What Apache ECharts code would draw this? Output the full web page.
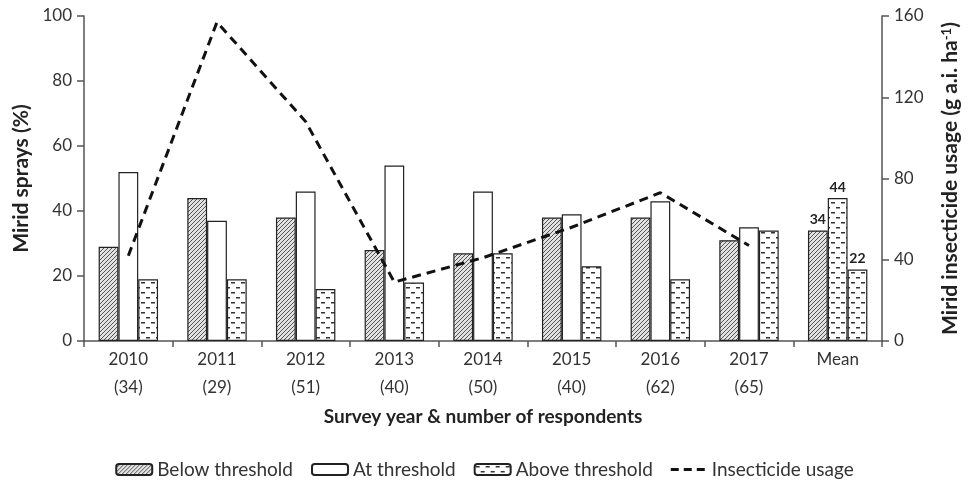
<!DOCTYPE html>
<html>
<head>
<meta charset="utf-8">
<script src="https://cdn.jsdelivr.net/npm/echarts@6/dist/echarts.min.js"></script>
<style>
  html, body { margin: 0; padding: 0; background: #fff; }
  #chart { width: 969px; height: 486px; }
</style>
</head>
<body>
<div id="chart"></div>
<script>
  const years = ['2010\n(34)', '2011\n(29)', '2012\n(51)', '2013\n(40)', '2014\n(50)', '2015\n(40)', '2016\n(62)', '2017\n(65)', 'Mean'];
  const below = [29, 44, 38, 28, 27, 38, 38, 31, 34];
  const atThr = [52, 37, 46, 54, 46, 39, 43, 35, 44];
  const above = [19, 19, 16, 18, 27, 23, 19, 34, 22];
  const usage = [42, 157, 108, 29, 41, 56, 73, 47, null];
  const leftTicks = [0, 20, 40, 60, 80, 100];
  const rightTicks = [0, 40, 80, 120, 160];

  const FONT = 'Lato, "Open Sans", sans-serif';
  const TXT = '#333';

  function hatch() {
    const c = document.createElement('canvas');
    c.width = 4; c.height = 4;
    const g = c.getContext('2d');
    g.fillStyle = '#e2e2e2';
    g.fillRect(0, 0, 4, 4);
    g.strokeStyle = '#444';
    g.lineWidth = 0.9;
    g.beginPath();
    g.moveTo(-1, 5); g.lineTo(5, -1);
    g.moveTo(-1, 1); g.lineTo(1, -1);
    g.moveTo(3, 5); g.lineTo(5, 3);
    g.stroke();
    return c;
  }

  function dashes() {
    const c = document.createElement('canvas');
    c.width = 10; c.height = 10;
    const g = c.getContext('2d');
    g.fillStyle = '#fff';
    g.fillRect(0, 0, 10, 10);
    g.fillStyle = '#333';
    g.fillRect(1, 2, 4, 1.5);
    g.fillRect(6, 7, 4, 1.5);
    return c;
  }

  const hatchFill = { image: hatch(), repeat: 'repeat' };
  const dashFill = { image: dashes(), repeat: 'repeat' };
  const border = { borderColor: '#222', borderWidth: 1.2 };

  const meanLabel = {
    show: true, position: 'top', distance: 4,
    fontFamily: FONT, fontWeight: 'bold', fontSize: 14, color: '#222'
  };

  function withMean(arr, extra) {
    return arr.map((v, i) => i === arr.length - 1
      ? Object.assign({ value: v, label: meanLabel }, extra || {})
      : v);
  }

  const nameStyle = { fontFamily: FONT, fontSize: 21, fontWeight: 'bold', color: '#222' };

  const chart = echarts.init(document.getElementById('chart'));
  chart.setOption({
    animation: false,
    textStyle: { fontFamily: FONT },
    grid: { left: 84, right: 84, top: 16, bottom: 145 },
    legend: {
      bottom: 2,
      left: 'center',
      itemGap: 18,
      itemWidth: 36,
      itemHeight: 11,
      textStyle: { fontFamily: FONT, fontSize: 19, color: TXT },
      data: [
        'Below threshold', 'At threshold', 'Above threshold',
        {
          name: 'Insecticide usage',
          icon: 'path://M0,4h8v3h-8z M13,4h8v3h-8z M26,4h8v3h-8z M0,0h0.01v11h-0.01z M35.99,0h0.01v11h-0.01z'
        }
      ]
    },
    xAxis: {
      type: 'category',
      data: years,
      name: 'Survey year & number of respondents',
      nameLocation: 'middle',
      nameGap: 56,
      nameTextStyle: Object.assign({}, nameStyle, { fontSize: 19 }),
      axisLine: { lineStyle: { color: '#555', width: 1.5 } },
      axisTick: { show: true, length: 6, lineStyle: { color: '#555', width: 1.5 } },
      axisLabel: { fontFamily: FONT, fontSize: 17, color: TXT, lineHeight: 28, margin: 5 }
    },
    yAxis: [
      {
        type: 'value', min: 0, max: 100, interval: 20,
        name: 'Mirid sprays (%)',
        nameLocation: 'middle', nameGap: 50, nameRotate: 90,
        nameTextStyle: nameStyle,
        axisLine: { show: true, lineStyle: { color: '#555', width: 1.5 } },
        axisTick: { show: true, length: 7, lineStyle: { color: '#555', width: 1.5 } },
        axisLabel: {
          fontFamily: FONT, fontSize: 17, color: TXT, margin: 12,
          formatter: v => leftTicks.includes(v) ? String(v) : ''
        },
        splitLine: { show: false }
      },
      {
        type: 'value', min: 0, max: 160, interval: 40,
        name: 'Mirid insecticide usage (g a.i. ha{s|-1}{n|)}',
        nameLocation: 'middle', nameGap: 58, nameRotate: 90,
        nameTextStyle: Object.assign({}, nameStyle, {
          rich: {
            s: { fontFamily: FONT, fontSize: 13, fontWeight: 'bold', color: '#222', verticalAlign: 'top', padding: [0, 0, 8, 0] },
            n: { fontFamily: FONT, fontSize: 21, fontWeight: 'bold', color: '#222' }
          }
        }),
        axisLine: { show: true, lineStyle: { color: '#555', width: 1.5 } },
        axisTick: { show: true, length: 7, lineStyle: { color: '#555', width: 1.5 } },
        axisLabel: {
          fontFamily: FONT, fontSize: 17, color: TXT, margin: 12,
          formatter: v => rightTicks.includes(v) ? String(v) : ''
        },
        splitLine: { show: false }
      }
    ],
    series: [
      {
        name: 'Below threshold', type: 'bar',
        barGap: '0%', barCategoryGap: '33%',
        itemStyle: Object.assign({ color: hatchFill }, border),
        data: withMean(below)
      },
      {
        name: 'At threshold', type: 'bar',
        itemStyle: Object.assign({ color: '#fff' }, border),
        data: withMean(atThr, { itemStyle: Object.assign({ color: dashFill }, border) })
      },
      {
        name: 'Above threshold', type: 'bar',
        itemStyle: Object.assign({ color: dashFill }, border),
        data: withMean(above)
      },
      {
        name: 'Insecticide usage', type: 'line', yAxisIndex: 1,
        symbol: 'none', showSymbol: false,
        itemStyle: { color: '#111' },
        lineStyle: { color: '#111', width: 3, type: [9, 6] },
        data: usage
      }
    ]
  });
</script>
</body>
</html>
